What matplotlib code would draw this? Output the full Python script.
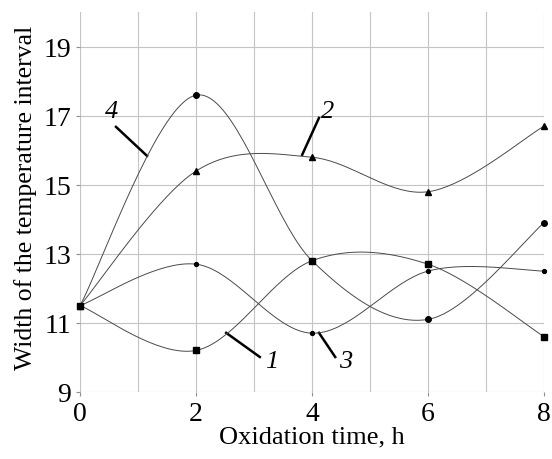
import numpy as np
import matplotlib
matplotlib.use("Agg")
import matplotlib.pyplot as plt

# dane ocitane sa slike
time_h = [0, 2, 4, 6, 8]
curve1 = [11.5, 10.2, 12.8, 12.7, 10.6]
curve2 = [11.5, 15.4, 15.8, 14.8, 16.7]
curve3 = [11.5, 12.7, 10.7, 12.5, 12.5]
curve4 = [11.5, 17.6, 12.8, 11.1, 13.9]
y_ticks = [9, 11, 13, 15, 17, 19]
x_ticks = [0, 2, 4, 6, 8]


# glatka kriva kroz tacke (kao "smoothed line" u Excelu)
def smooth(x, y, n=40):
    p = np.column_stack([x, y]).astype(float)
    ext = np.vstack([p[0], p, p[-1]])
    out = []
    for i in range(len(p) - 1):
        p0, p1, p2, p3 = ext[i], ext[i + 1], ext[i + 2], ext[i + 3]
        c1 = p1 + (p2 - p0) / 6.0
        c2 = p2 - (p3 - p1) / 6.0
        t = np.linspace(0, 1, n)[:, None]
        seg = ((1 - t) ** 3) * p1 + 3 * ((1 - t) ** 2) * t * c1 + 3 * (1 - t) * t ** 2 * c2 + t ** 3 * p2
        out.append(seg if i == 0 else seg[1:])
    s = np.vstack(out)
    return s[:, 0], s[:, 1]


plt.rcParams['font.family'] = ['Liberation Serif', 'DejaVu Serif']

fig = plt.figure(figsize=(5.52, 4.60), dpi=100)
ax = fig.add_axes([0.145, 0.146, 0.8405, 0.825])

lc = '#4a4a4a'
for ys, m, ms in [(curve1, 's', 4), (curve2, '^', 4), (curve3, 'o', 2.8), (curve4, 'o', 4)]:
    sx, sy = smooth(time_h, ys)
    ax.plot(sx, sy, color=lc, lw=0.7, zorder=3)
    ax.plot(time_h, ys, ls='none', marker=m, ms=ms, color='black', zorder=4, clip_on=False)

# oznake krivih
ax.plot([0.62, 1.155], [16.68, 15.84], color='black', lw=1.8)
ax.text(0.43, 16.97, '4', style='italic', fontsize=19, va='baseline')
ax.plot([4.12, 3.83], [16.94, 15.87], color='black', lw=1.8)
ax.text(4.15, 16.97, '2', style='italic', fontsize=19, va='baseline')
ax.plot([2.52, 3.10], [10.71, 10.01], color='black', lw=1.8)
ax.text(3.19, 9.72, '1', style='italic', fontsize=19, va='baseline')
ax.plot([4.12, 4.40], [10.71, 10.01], color='black', lw=1.8)
ax.text(4.47, 9.72, '3', style='italic', fontsize=19, va='baseline')

ax.set_xlim(0, 8)
ax.set_ylim(9, 20)
ax.set_xticks(x_ticks)
ax.set_yticks(y_ticks)
ax.set_xticks(range(0, 9), minor=True)
ax.grid(True, which='both', color='#c4c4c4', lw=0.8, zorder=0)
for s in ax.spines.values():
    s.set_visible(False)
ax.tick_params(which='both', length=3, color='#909090', labelsize=20)
ax.tick_params(which='minor', length=0)
ax.set_xlabel('Oxidation time, h', fontsize=19, labelpad=0)
ax.set_ylabel('Width of the temperature interval', fontsize=18.5)
ax.yaxis.set_label_coords(-0.093, 0.515)

fig.savefig('out.png', dpi=100)
